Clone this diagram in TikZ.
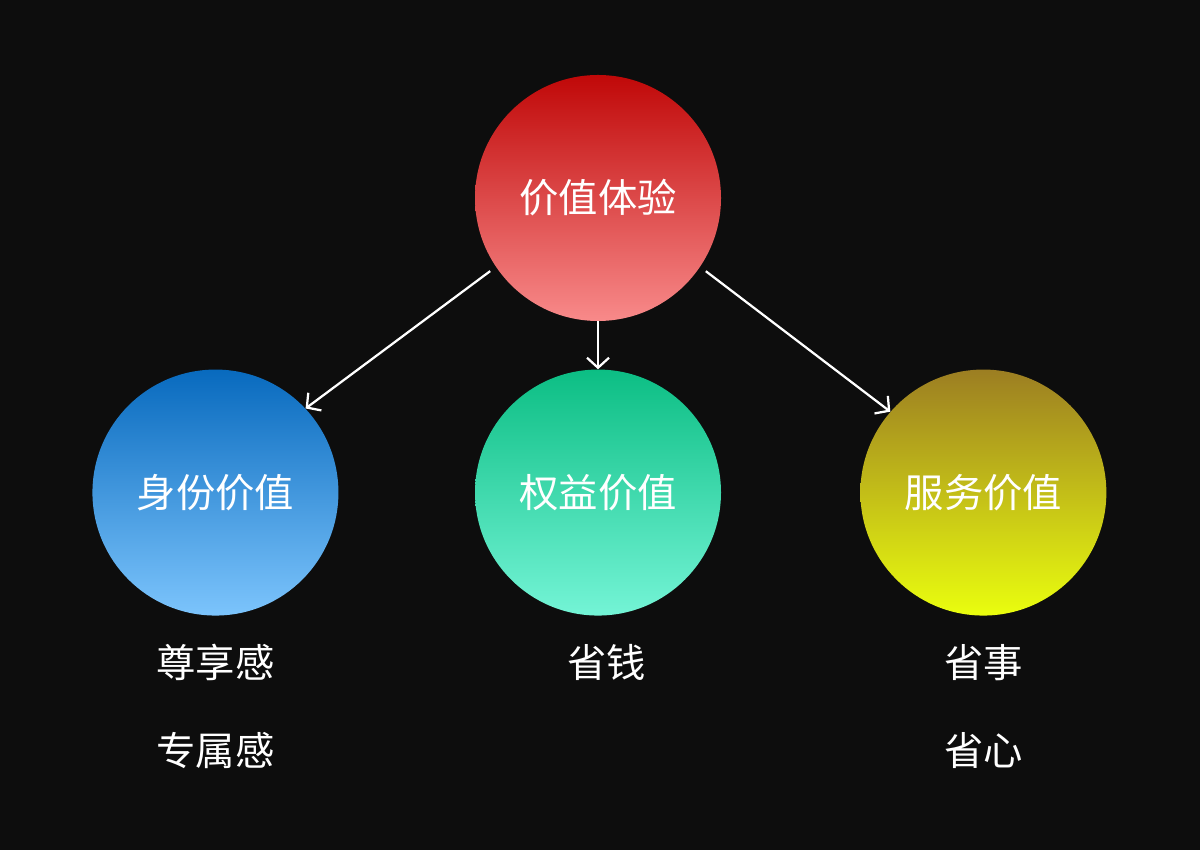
\documentclass[tikz,border=0pt]{standalone}
\usepackage{fontspec}
\usetikzlibrary{positioning,arrows.meta}
\newfontfamily\cjk{Noto Sans CJK SC}
\definecolor{PageDark}{RGB}{13,13,13}
\definecolor{RedTop}{RGB}{192,8,8}
\definecolor{RedBottom}{RGB}{248,138,138}
\definecolor{BlueTop}{RGB}{8,106,190}
\definecolor{BlueBottom}{RGB}{124,196,252}
\definecolor{GreenTop}{RGB}{12,190,132}
\definecolor{GreenBottom}{RGB}{116,244,214}
\definecolor{OliveTop}{RGB}{156,126,34}
\definecolor{OliveBottom}{RGB}{234,254,14}

\begin{document}
\begin{tikzpicture}[
ball/.style={
circle,minimum size=6.15cm,inner sep=0pt,text=white,
font=\cjk\fontsize{28}{34}\selectfont
},
tag/.style={text=white,inner sep=0pt,font=\cjk\fontsize{28}{34}\selectfont},
arrow/.style={-{Straight Barb[length=2.5mm,width=5.5mm]},line width=1.6pt,draw=white}
]
\fill[PageDark] (0,0) rectangle (30,21.25);
\useasboundingbox (0,0) rectangle (30,21.25);

\node[ball,top color=RedTop,bottom color=RedBottom] (top) at (14.95,16.3) {价值体验};
\node[ball,top color=GreenTop,bottom color=GreenBottom,below=1.2cm of top] (mid) {权益价值};
\node[ball,top color=BlueTop,bottom color=BlueBottom,left=3.4cm of mid] (left) {身份价值};
\node[ball,top color=OliveTop,bottom color=OliveBottom,right=3.47cm of mid] (right) {服务价值};

\draw[arrow,shorten <=5pt] (top.214) -- (left.43);
\draw[arrow] (top) -- (mid);
\draw[arrow,shorten <=5pt] (top.326) -- (right.139);

\node[tag] (left1) at ([yshift=-4.25cm]left.center) {尊享感};
\node[tag] (left2) at ([yshift=-6.45cm]left.center) {专属感};
\node[tag] (mid1) at ([xshift=0.22cm,yshift=-4.25cm]mid.center) {省钱};
\node[tag] (right1) at ([yshift=-4.25cm]right.center) {省事};
\node[tag] (right2) at ([yshift=-6.45cm]right.center) {省心};

\end{tikzpicture}
\end{document}
